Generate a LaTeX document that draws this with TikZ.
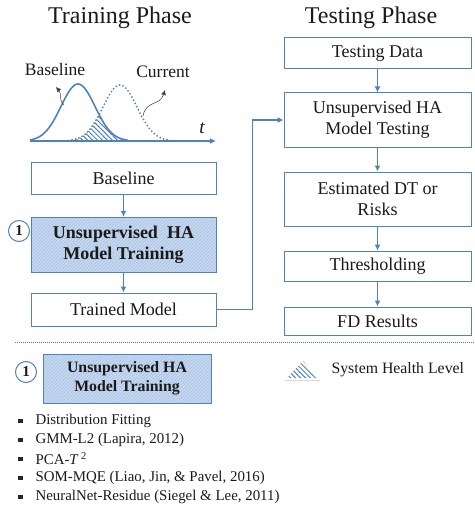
\documentclass[tikz,border=0pt]{standalone}
\usepackage{fontspec}
\setmainfont{Liberation Serif}
\usetikzlibrary{arrows.meta,patterns.meta,positioning}

\definecolor{lineblue}{HTML}{4F81BD}
\definecolor{hatchfill}{HTML}{C6D8EF}
\definecolor{hatchline}{HTML}{A4C0E3}
\definecolor{txt}{HTML}{1A1A1A}

\tikzset{
  box/.style={draw=lineblue, line width=1pt, fill=white, text=txt, align=center,
    font=\fontsize{18}{21}\selectfont, inner sep=2pt},
  hatchbox/.style={box, preaction={fill=hatchfill},
    pattern={Lines[angle=45,distance=2.4pt,line width=0.5pt]}, pattern color=hatchline},
  flow/.style={-{Latex[length=6pt,width=6pt]}, draw=lineblue, line width=1.6pt},
  pointer/.style={-{Latex[length=5pt,width=5pt]}, draw=black!75, line width=0.5pt},
  num/.style={circle, draw=lineblue, line width=1pt, fill=white, minimum size=21pt,
    inner sep=0pt, text=txt, font=\fontsize{15}{15}\selectfont\bfseries},
  title/.style={font=\fontsize{24}{26}\selectfont, text=txt},
  lbl/.style={font=\fontsize{17.5}{20}\selectfont, text=txt},
  item/.style={anchor=west, font=\fontsize{14.9}{16}\selectfont, text=txt},
  healthhatch/.style={pattern={Lines[angle=-45,distance=3.5pt,line width=1pt]}, pattern color=lineblue},
}

\begin{document}
\begin{tikzpicture}[x=1pt,y=-1pt]
\useasboundingbox (0,0) rectangle (474,508);

\node[title] (trainT) at (120,18) {Training Phase};
\node[title] (testT) at (371,18) {Testing Phase};

% distributions
\fill[healthhatch] (70,141) -- plot[domain=70:99,samples=30] (\x,{141-56*exp(-((\x-120)^2)/578)})
  -- plot[domain=99:128,samples=30] (\x,{141-57*exp(-((\x-78)^2)/578)}) -- (128,141) -- cycle;
\draw[lineblue, line width=1.6pt] plot[domain=30:128,samples=60] (\x,{141-57*exp(-((\x-78)^2)/578)});
\draw[lineblue, line width=2pt, line cap=round, dash pattern=on 0pt off 3.6pt]
  plot[domain=72:168,samples=60] (\x,{141-56*exp(-((\x-120)^2)/578)});
\coordinate (axl) at (30,141);
\coordinate (axr) at (216,141);
\draw[flow] (axl) -- (axr);
\node[lbl, font=\fontsize{19}{19}\selectfont\itshape] (tl) at (202,128) {t};

\node[lbl] (blbl) at (55,70) {Baseline};
\node[lbl] (curlbl) at (163,72) {Current};
\coordinate (blpt) at (64,105);
\coordinate (bltip) at (56,87);
\coordinate (curpt) at (143,116);
\coordinate (curtip) at (165,90);
\draw[pointer] (blpt) .. controls (58,99) and (62,94) .. (bltip);
\draw[pointer] (curpt) .. controls (146,100) and (160,106) .. (curtip);

% training
\node[box, minimum width=185pt, minimum height=32pt] (base) at (123.5,178) {Baseline};
\node[hatchbox, minimum width=185pt, minimum height=55pt, font=\fontsize{18}{21}\selectfont\bfseries] (train) at (123.5,244.5) {Unsupervised\ \ HA\\Model Training};
\node[box, minimum width=185pt, minimum height=33pt] (model) at (123.5,309.5) {Trained Model};
\node[num] (n1) at (19,231) {1};
\draw[flow] (base) -- (train);
\draw[flow] (train) -- (model);

% testing
\node[box, minimum width=187pt, minimum height=31pt] (tdata) at (377.5,53.5) {Testing Data};
\node[box, minimum width=187pt, minimum height=54pt] (utest) at (377.5,120) {Unsupervised HA\\Model Testing};
\node[box, minimum width=187pt, minimum height=54pt] (est) at (377.5,199) {Estimated DT or\\Risks};
\node[box, minimum width=187pt, minimum height=30pt] (thr) at (377.5,266) {Thresholding};
\node[box, minimum width=187pt, minimum height=28pt] (fd) at (377.5,321) {FD Results};
\draw[flow] (tdata) -- (utest);
\draw[flow] (utest) -- (est);
\draw[flow] (est) -- (thr);
\draw[flow] (thr) -- (fd);
\draw[flow] (model.east) -- ++(36,0) |- (utest.west);

\draw[lineblue, line width=0.8pt, dash pattern=on 0.8pt off 1.2pt] (15,342) -- (474,342);

% legend
\node[num] (n1b) at (26,372) {1};
\node[hatchbox, minimum width=168pt, minimum height=49pt, font=\fontsize{15.8}{19}\selectfont\bfseries] (leg) at (127,378.5) {Unsupervised HA\\Model Training};
\fill[healthhatch] (287,378) -- (303,361) -- (318,378) -- cycle;
\draw[black!15, line width=1.5pt] (285,380.5) -- (320,380.5);
\node[lbl, anchor=west, font=\fontsize{15.8}{18}\selectfont] (shl) at (328,370) {System Health Level};

\foreach \i/\t in {1/Distribution Fitting, 2/{GMM-L2 (Lapira, 2012)}, 3/{PCA-\textit{T}\,\textsuperscript{2}},
  4/{SOM-MQE (Liao, Jin, \& Pavel, 2016)}, 5/{NeuralNet-Residue (Siegel \& Lee, 2011)}}{
  \node[item] (item\i) at (32,{421+19*(\i-1)}) {\t};
  \fill[black!85] (18,{418.5+19*(\i-1)}) rectangle ++(4.5,4.5);
}
\end{tikzpicture}
\end{document}
